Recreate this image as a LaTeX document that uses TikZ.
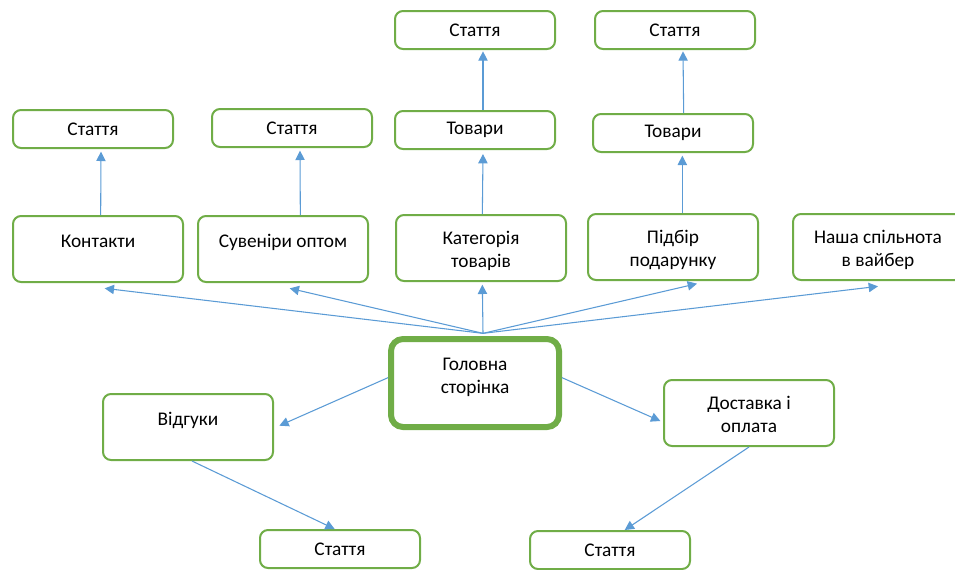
\documentclass[tikz,border=0pt]{standalone}
\usepackage{fontspec}
\setmainfont{Carlito}
\usepackage{tikz}
\usetikzlibrary{arrows.meta,positioning}
\definecolor{boxgreen}{RGB}{112,173,71}
\definecolor{linkblue}{RGB}{91,155,213}
\tikzset{
	page/.style={draw=boxgreen,line width=1.5pt,rounded corners=6pt,fill=white,
		font=\fontsize{14.5}{17.5}\selectfont,align=center,inner sep=2pt},
	smallbox/.style={page,minimum width=120pt,minimum height=28.5pt},
	tallbox/.style={page,minimum width=127.5pt,minimum height=49.5pt,text height=8pt,text depth=10pt},
	twobox/.style={page,minimum width=127.5pt,minimum height=49.5pt,text height=33pt,text depth=3.5pt},
	mainbox/.style={page,line width=4.5pt,rounded corners=9pt,minimum width=126pt,minimum height=66pt,text depth=11pt},
	link/.style={draw=linkblue,line width=0.8pt,-{Triangle[length=7pt,width=7pt]}}
}
\begin{document}
\begin{tikzpicture}[x=0.75pt,y=-0.75pt]
	\useasboundingbox (0,0) rectangle (955,569);
	\node (main)[mainbox] at (475,383) {Головна\\сторінка};

	\node (contacts)[tallbox] at (98,249) {Контакти};
	\node (souvenirs)[tallbox] at (283,249) {Сувеніри оптом};
	\node (category)[twobox] at (481,248) {Категорія\\товарів};
	\node (gifts)[twobox] at (673,247) {Підбір\\подарунку};
	\node (viber)[twobox] at (878,247) {Наша спільнота\\в вайбер};
	\node (reviews)[tallbox] at (188,427) {Відгуки};
	\node (delivery)[twobox] at (749,413) {Доставка і\\оплата};

	\node (goodsI)[smallbox] at (475,130) {Товари};
	\node (goodsII)[smallbox] at (673,133) {Товари};

	\node (articleI)[smallbox] at (93,129) {Стаття};
	\node (articleII)[smallbox] at (292,128) {Стаття};
	\node (articleIII)[smallbox] at (475,30) {Стаття};
	\node (articleIV)[smallbox] at (675,30) {Стаття};
	\node (articleV)[smallbox] at (340,549) {Стаття};
	\node (articleVI)[smallbox] at (610,550) {Стаття};

	% draw the connections
	\draw[link] ([xshift=6pt,yshift=2pt]main.north) -- ([xshift=5pt,yshift=-4pt]contacts.south);
	\draw[link] ([xshift=6pt,yshift=2pt]main.north) -- ([xshift=5pt,yshift=-4pt]souvenirs.south);
	\draw[link] ([xshift=6pt,yshift=2pt]main.north) -- ([xshift=1pt,yshift=-2pt]category.south);
	\draw[link] ([xshift=6pt,yshift=2pt]main.north) -- ([xshift=18pt,yshift=-2pt]gifts.south);
	\draw[link] ([xshift=6pt,yshift=2pt]main.north) -- ([xshift=0pt,yshift=-4pt]viber.south);
	\draw[link] ([yshift=4pt]main.west) -- ([xshift=4pt,yshift=1pt]reviews.east);
	\draw[link] ([yshift=4pt]main.east) -- ([xshift=-2pt,yshift=-6pt]delivery.west);

	\draw[link] ([xshift=2pt]contacts.north) -- ([xshift=6pt,yshift=-2pt]articleI.south);
	\draw[link] ([xshift=13pt]souvenirs.north) -- ([xshift=6pt,yshift=-2pt]articleII.south);
	\draw[link] ([xshift=1pt]category.north) -- ([xshift=6pt,yshift=-3pt]goodsI.south);
	\draw[link] ([xshift=6pt]goodsI.north) -- ([xshift=6pt,yshift=-1pt]articleIII.south);
	\draw[link] ([xshift=7pt]gifts.north) -- ([xshift=7pt,yshift=-2pt]goodsII.south);
	\draw[link] ([xshift=8pt]goodsII.north) -- ([xshift=6pt,yshift=-1pt]articleIV.south);
	\draw[link] ([xshift=3pt]reviews.south) -- ([xshift=-4pt]articleV.north);
	\draw[link] (delivery.south) -- ([xshift=11pt]articleVI.north);
\end{tikzpicture}
\end{document}
